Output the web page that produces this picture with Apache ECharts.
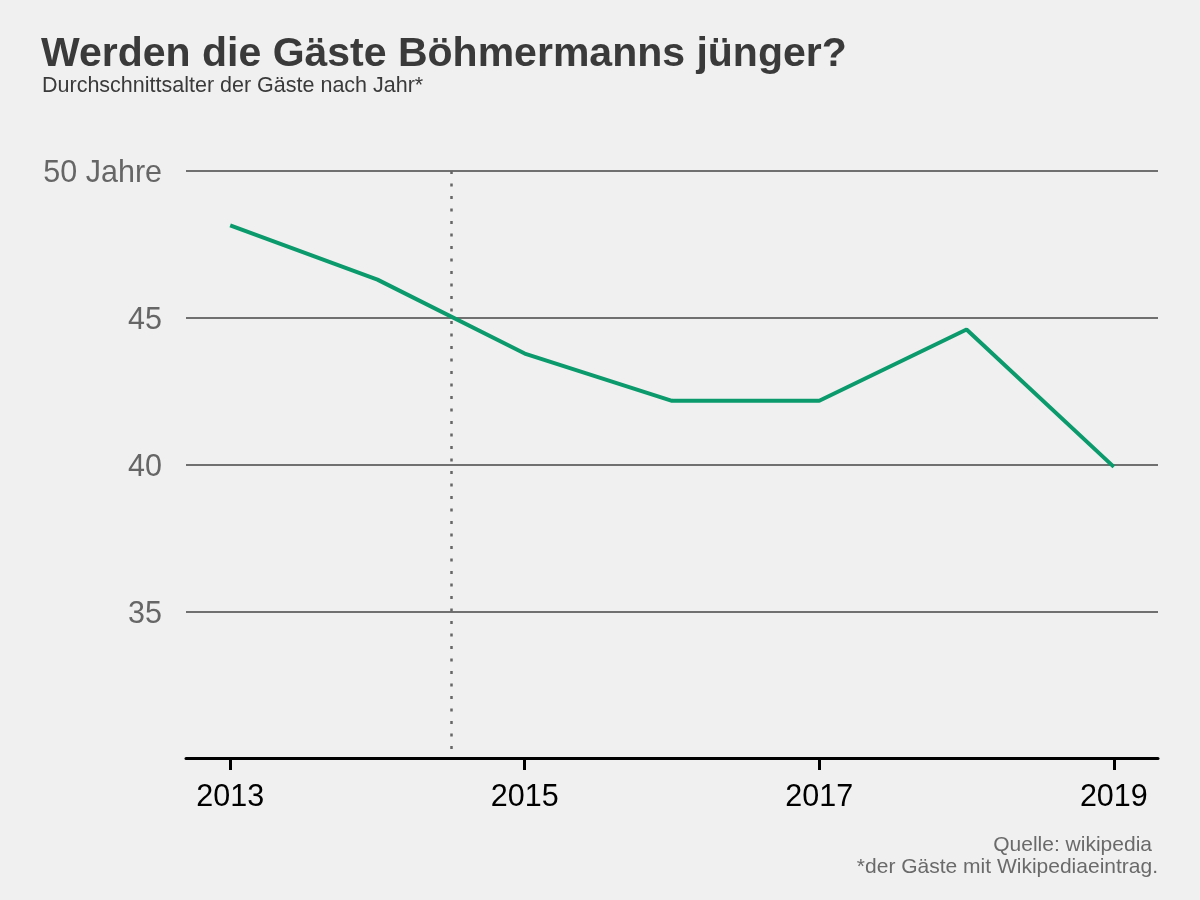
<!DOCTYPE html>
<html>
<head>
<meta charset="utf-8">
<script src="https://cdn.jsdelivr.net/npm/echarts@6/dist/echarts.min.js"></script>
<style>
  html, body { margin: 0; padding: 0; background: #f0f0f0; }
  #chart { width: 1200px; height: 900px; }
</style>
</head>
<body>
<div id="chart"></div>
<script>
// Durchschnittsalter der Gäste pro Jahr
const years = [2013, 2014, 2015, 2016, 2017, 2018, 2019];
const avgAge = [48.15, 46.3, 43.78, 42.17, 42.17, 44.6, 39.92];
const xTicks = [2013, 2015, 2017, 2019];
const markerYear = 2014.5;

const chart = echarts.init(document.getElementById('chart'), null, { width: 1200, height: 900 });

chart.setOption({
  backgroundColor: '#f0f0f0',
  animation: false,
  title: [
    {
      text: 'Werden die Gäste Böhmermanns jünger?',
      left: 41,
      top: 34,
      padding: 0,
      textStyle: { fontFamily: 'Liberation Sans', fontSize: 41, fontWeight: 'bold', color: '#3a3a3a' }
    },
    {
      text: 'Durchschnittsalter der Gäste nach Jahr*',
      left: 42,
      top: 75,
      padding: 0,
      textStyle: { fontFamily: 'Liberation Sans', fontSize: 21.5, fontWeight: 'normal', color: '#3a3a3a' }
    }
  ],
  graphic: [
    {
      type: 'text',
      right: 48,
      top: 835,
      style: {
        text: 'Quelle: wikipedia',
        fontFamily: 'Liberation Sans',
        fontSize: 21,
        fill: '#6a6a6a'
      }
    },
    {
      type: 'text',
      right: 42,
      top: 857,
      style: {
        text: '*der Gäste mit Wikipediaeintrag.',
        fontFamily: 'Liberation Sans',
        fontSize: 21,
        fill: '#6a6a6a'
      }
    }
  ],
  grid: { left: 186, right: 42, top: 171, bottom: 142, containLabel: false },
  xAxis: {
    type: 'value',
    min: 2012.7,
    max: 2019.3,
    splitLine: { show: false },
    axisLine: { show: true, lineStyle: { color: '#000', width: 3 } },
    axisTick: { show: true, customValues: xTicks, length: 12, lineStyle: { color: '#000', width: 3 } },
    axisLabel: {
      customValues: xTicks,
      margin: 24,
      color: '#000',
      fontFamily: 'Liberation Sans',
      fontSize: 30.5,
      formatter: v => String(v)
    }
  },
  yAxis: {
    type: 'value',
    min: 30,
    max: 50,
    interval: 5,
    axisLine: { show: false },
    axisTick: { show: false },
    splitLine: { lineStyle: { color: '#707070', width: 2 } },
    axisLabel: {
      margin: 24,
      color: '#666',
      fontFamily: 'Liberation Sans',
      fontSize: 30.5,
      formatter: v => (v === 30 ? '' : '{v|' + (v === 50 ? '50 Jahre' : v) + '}'),
      rich: {
        v: { padding: [6, 0, 0, 0], color: '#666', fontFamily: 'Liberation Sans', fontSize: 30.5 }
      }
    }
  },
  series: [
    {
      type: 'line',
      data: years.map((y, i) => [y, avgAge[i]]),
      showSymbol: false,
      lineStyle: { color: '#0a9a6c', width: 4 },
      markLine: {
        silent: true,
        symbol: 'none',
        label: { show: false },
        lineStyle: { color: '#666', type: [3, 9.5], width: 2.5 },
        data: [[{ coord: [markerYear, 50] }, { coord: [markerYear, 30] }]]
      }
    }
  ]
});
</script>
</body>
</html>
